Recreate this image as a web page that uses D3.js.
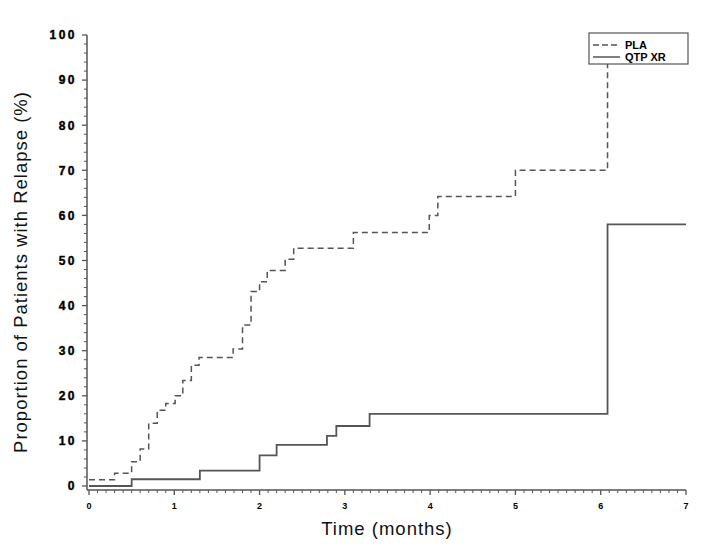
<!DOCTYPE html>
<html><head><meta charset="utf-8">
<script src="https://cdn.jsdelivr.net/npm/d3@7"></script>
<style>body{margin:0;background:#fff}svg{display:block}</style>
</head><body>
<svg id="c" width="713" height="547"></svg>
<script>
const plaTimes  = [0, 0.30, 0.50, 0.60, 0.70, 0.80, 0.90, 1.01, 1.10, 1.20, 1.29, 1.69, 1.80, 1.90, 2.00, 2.09, 2.30, 2.40, 3.10, 3.99, 4.09, 5.00, 6.08];
const plaValues = [1.4, 2.8, 5.4, 8.2, 13.9, 16.8, 18.3, 20.0, 23.4, 26.8, 28.5, 30.4, 35.7, 43.1, 45.3, 47.8, 50.3, 52.7, 56.2, 60.0, 64.2, 70.0, 100];
const qtpTimes  = [0, 0.50, 1.30, 2.00, 2.20, 2.79, 2.90, 3.29, 6.08, 7.0];
const qtpValues = [0, 1.5, 3.4, 6.8, 9.1, 11.1, 13.3, 16.0, 58.0, 58.0];
const xTicks = [0,1,2,3,4,5,6,7];
const yTicks = [0,10,20,30,40,50,60,70,80,90,100];
const seriesNames = ["PLA", "QTP XR"];

const svg = d3.select("#c");
const x = d3.scaleLinear().domain([0,7]).range([89,686]);
const y = d3.scaleLinear().domain([0,100]).range([486,35]);
const axX = 490, axY = 87;
const ink = "#555";
const font = "Liberation Sans, Arial, sans-serif";

// x axis
const xMinor = d3.range(0,71).map(d=>d/10).filter(d=>Math.abs(d-Math.round(d))>1e-6);
const gx = svg.append("g").attr("transform",`translate(0,${axX})`);
gx.append("line").attr("x1",axY).attr("x2",x(7)).attr("stroke",ink).attr("stroke-width",1.5);
gx.selectAll(".mn").data(xMinor).join("line").attr("x1",d=>x(d)).attr("x2",d=>x(d)).attr("y1",0).attr("y2",3).attr("stroke",ink);
gx.selectAll(".mj").data(xTicks).join("line").attr("x1",d=>x(d)).attr("x2",d=>x(d)).attr("y1",0).attr("y2",5).attr("stroke",ink).attr("stroke-width",1.3);
gx.selectAll("text").data(xTicks).join("text").attr("x",d=>x(d)).attr("y",19).attr("text-anchor","middle")
  .attr("font-family",font).attr("font-weight","bold").attr("font-size",9).attr("fill","#000").text(d=>d);

// y axis
const yMinor = d3.range(0,101,2).filter(d=>d%10!==0);
const gy = svg.append("g").attr("transform",`translate(${axY},0)`);
gy.append("line").attr("y1",y(100)).attr("y2",axX).attr("stroke",ink).attr("stroke-width",1.5);
gy.selectAll(".mn").data(yMinor).join("line").attr("y1",d=>y(d)).attr("y2",d=>y(d)).attr("x1",0).attr("x2",-3).attr("stroke",ink);
gy.selectAll(".mj").data(yTicks).join("line").attr("y1",d=>y(d)).attr("y2",d=>y(d)).attr("x1",0).attr("x2",-5).attr("stroke",ink).attr("stroke-width",1.3);
gy.selectAll("text").data(yTicks).join("text").attr("x",-10).attr("y",d=>y(d)).attr("dy","0.36em").attr("text-anchor","end")
  .attr("font-family",font).attr("font-weight","bold").attr("font-size",12).attr("letter-spacing","2.5px").attr("stroke","#000").attr("stroke-width",0.4).attr("fill","#000").text(d=>d);

// titles
svg.append("text").attr("x",387).attr("y",535).attr("text-anchor","middle")
  .attr("font-family",font).attr("font-size",18.5).attr("letter-spacing","1px").attr("fill","#111").text("Time (months)");
svg.append("text").attr("transform","translate(27,272) rotate(-90)").attr("text-anchor","middle")
  .attr("font-family",font).attr("font-size",18.5).attr("letter-spacing","1px").attr("fill","#111").text("Proportion of Patients with Relapse (%)");

// curves
const line = d3.line().x(d=>x(d[0])).y(d=>y(d[1])).curve(d3.curveStepAfter);
const pla = plaTimes.map((t,i)=>[t,plaValues[i]]);
const qtp = qtpTimes.map((t,i)=>[t,qtpValues[i]]);
svg.append("path").datum(pla).attr("d",line).attr("fill","none").attr("stroke",ink).attr("stroke-width",1.5).attr("stroke-dasharray","6,4");
svg.append("path").datum(qtp).attr("d",line).attr("fill","none").attr("stroke",ink).attr("stroke-width",1.8);

// legend
const lg = svg.append("g");
lg.append("rect").attr("x",589).attr("y",33).attr("width",99).attr("height",31).attr("fill","#fff").attr("stroke",ink).attr("stroke-width",1.2);
const ly = [45, 57];
lg.selectAll(".ll").data(seriesNames).join("line").attr("x1",593).attr("x2",620).attr("y1",(d,i)=>ly[i]).attr("y2",(d,i)=>ly[i])
  .attr("stroke",ink).attr("stroke-width",1.5).attr("stroke-dasharray",(d,i)=>i===0?"6,3":null);
lg.selectAll("text").data(seriesNames).join("text").attr("x",625).attr("y",(d,i)=>ly[i]).attr("dy","0.36em")
  .attr("font-family",font).attr("font-weight","bold").attr("font-size",11).attr("fill","#000").text(d=>d);
</script>
</body></html>
